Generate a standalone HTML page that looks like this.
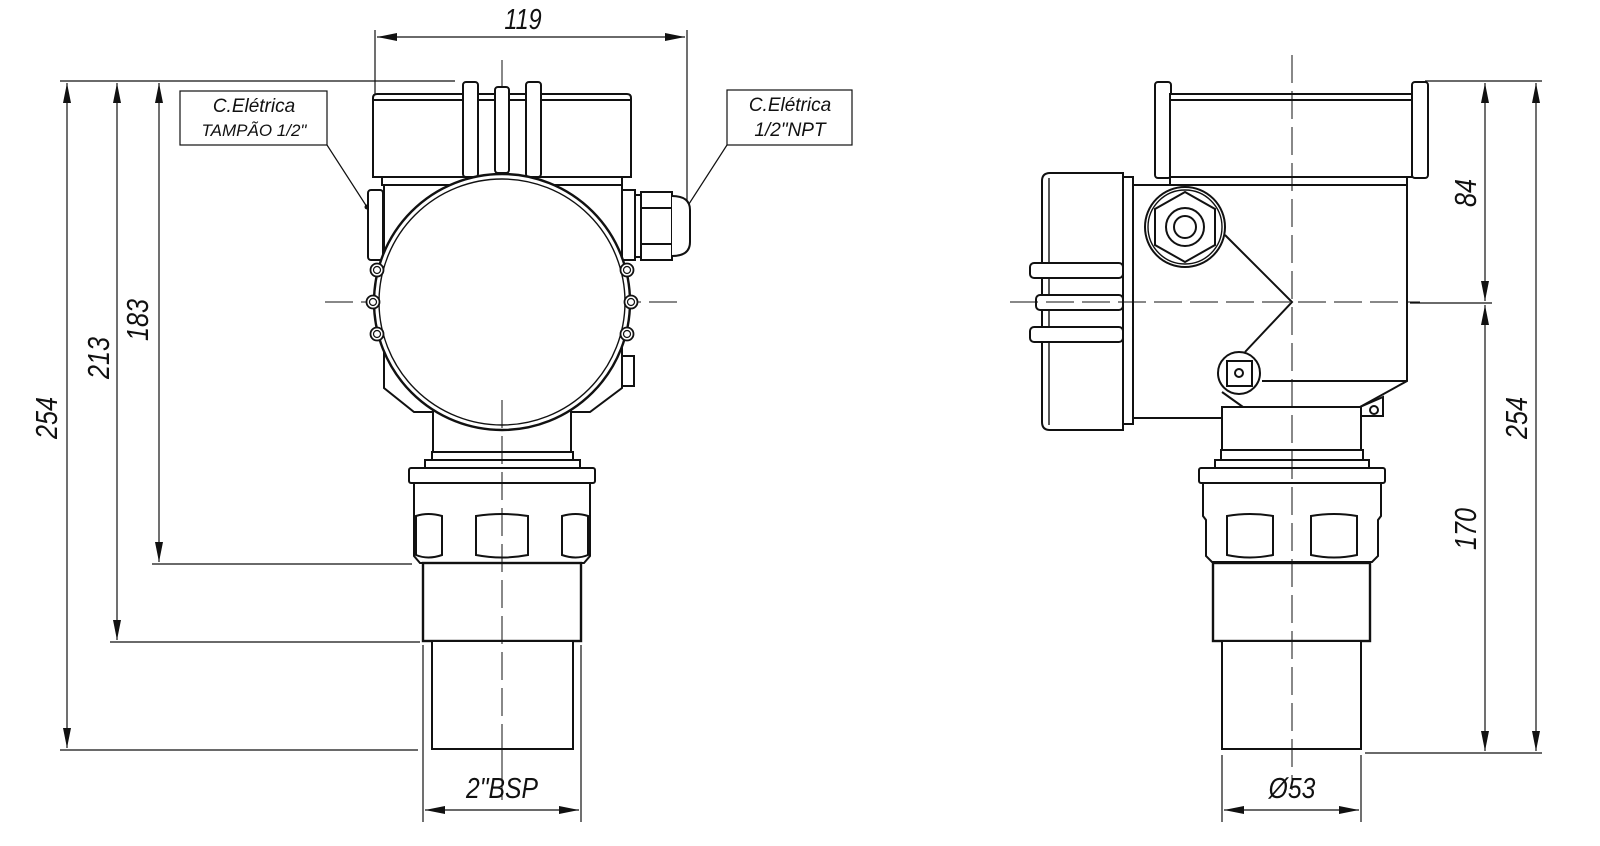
<!DOCTYPE html>
<html><head><meta charset="utf-8"><style>
html,body{margin:0;padding:0;background:#fff;}
svg{display:block;}
text{font-family:"Liberation Sans",sans-serif;font-style:italic;fill:#111;}
</style></head><body>
<svg width="1600" height="846" viewBox="0 0 1600 846" xmlns="http://www.w3.org/2000/svg">
<defs>
<marker id="a" viewBox="0 0 20 8" refX="20" refY="4" markerWidth="20" markerHeight="8" markerUnits="userSpaceOnUse" orient="auto-start-reverse"><path d="M0,0 L20,4 L0,8 Z" fill="#111"/></marker>
</defs>
<g stroke="#111" fill="none" stroke-width="1.2">
<line x1="60" y1="81" x2="455" y2="81"/>
<line x1="60" y1="750" x2="418" y2="750"/>
<line x1="110" y1="642" x2="420" y2="642"/>
<line x1="152" y1="564" x2="412" y2="564"/>
<line x1="67" y1="83" x2="67" y2="748" marker-start="url(#a)" marker-end="url(#a)"/>
<line x1="117" y1="83" x2="117" y2="640" marker-start="url(#a)" marker-end="url(#a)"/>
<line x1="159" y1="83" x2="159" y2="562" marker-start="url(#a)" marker-end="url(#a)"/>
<line x1="375" y1="30" x2="375" y2="95"/>
<line x1="687" y1="30" x2="687" y2="207"/>
<line x1="377" y1="37" x2="685" y2="37" marker-start="url(#a)" marker-end="url(#a)"/>
<line x1="423" y1="645" x2="423" y2="822"/>
<line x1="581" y1="645" x2="581" y2="822"/>
<line x1="425" y1="810" x2="579" y2="810" marker-start="url(#a)" marker-end="url(#a)"/>
<rect x="180" y="91" width="147" height="54"/>
<line x1="327" y1="145" x2="367" y2="207"/>
<rect x="727" y="90" width="125" height="55"/>
<line x1="727" y1="145" x2="687" y2="207"/>
<line x1="502" y1="60" x2="502" y2="800" stroke-width="1" stroke-dasharray="28,8"/>
<line x1="325" y1="302" x2="680" y2="302" stroke-width="1" stroke-dasharray="28,8"/>
</g>
<circle cx="367" cy="207" r="2.5" fill="#111"/>
<circle cx="687" cy="207" r="2.5" fill="#111"/>

<g stroke="#111" fill="#fff" stroke-width="2">
<path d="M373,177 L373,98 Q373,94 377,94 L627,94 Q631,94 631,98 L631,177 Z"/>
<line x1="373" y1="100" x2="631" y2="100"/>
<rect x="463" y="82" width="15" height="95" rx="3"/>
<rect x="495" y="87" width="14" height="86" rx="3"/>
<rect x="526" y="82" width="15" height="95" rx="3"/>
<rect x="382" y="177" width="240" height="8"/>
<path d="M384,185 L622,185 L622,388 L590,412 L414,412 L384,388 Z"/>
<rect x="433" y="400" width="138" height="52"/>
<rect x="622" y="356" width="12" height="30"/>
<rect x="368" y="190" width="15" height="70" rx="3"/>
<rect x="622" y="190" width="13" height="70"/>
<rect x="635" y="195" width="6" height="62"/>
<rect x="641" y="192" width="31" height="68"/>
<line x1="641" y1="208" x2="672" y2="208"/><line x1="641" y1="244" x2="672" y2="244"/>
<path d="M672,196 Q690,196 690,210 L690,242 Q690,256 672,256"/>
<circle cx="502" cy="302" r="128" stroke-width="2.4"/>
<circle cx="502" cy="302" r="123" stroke-width="1.4"/>
<g stroke-width="1.8">
<circle cx="377" cy="270" r="6.5"/><circle cx="373" cy="302" r="6.5"/><circle cx="377" cy="334" r="6.5"/>
<circle cx="627" cy="270" r="6.5"/><circle cx="631" cy="302" r="6.5"/><circle cx="627" cy="334" r="6.5"/>
</g>
<g stroke-width="1.2">
<circle cx="377" cy="270" r="3.5"/><circle cx="373" cy="302" r="3.5"/><circle cx="377" cy="334" r="3.5"/>
<circle cx="627" cy="270" r="3.5"/><circle cx="631" cy="302" r="3.5"/><circle cx="627" cy="334" r="3.5"/>
</g>
<rect x="432" y="452" width="141" height="8"/>
<rect x="425" y="460" width="155" height="8"/>
<rect x="409" y="468" width="186" height="15" rx="2"/>
<path d="M414,483 L590,483 L590,556 L584,563 L420,563 L414,556 Z"/>
<path d="M416,516 Q428,512 442,516 L442,555 Q428,560 416,555 Z"/>
<path d="M476,516 Q502,512 528,516 L528,555 Q502,560 476,555 Z"/>
<path d="M562,516 Q576,512 588,516 L588,555 Q576,560 562,555 Z"/>
<rect x="423" y="563" width="158" height="78" stroke-width="2.4"/>
<rect x="432" y="641" width="141" height="108"/>
</g>
<line x1="502" y1="400" x2="502" y2="800" stroke="#111" stroke-width="1" stroke-dasharray="28,8"/>

<g stroke="#111" fill="none" stroke-width="1.2">
<line x1="1425" y1="81" x2="1542" y2="81"/>
<line x1="1410" y1="303" x2="1492" y2="303"/>
<line x1="1365" y1="753" x2="1542" y2="753"/>
<line x1="1485" y1="83" x2="1485" y2="301" marker-start="url(#a)" marker-end="url(#a)"/>
<line x1="1485" y1="305" x2="1485" y2="751" marker-start="url(#a)" marker-end="url(#a)"/>
<line x1="1536" y1="83" x2="1536" y2="751" marker-start="url(#a)" marker-end="url(#a)"/>
<line x1="1222" y1="755" x2="1222" y2="822"/>
<line x1="1361" y1="755" x2="1361" y2="822"/>
<line x1="1224" y1="810" x2="1359" y2="810" marker-start="url(#a)" marker-end="url(#a)"/>
</g>
<g stroke="#111" fill="#fff" stroke-width="2">
<rect x="1155" y="82" width="16" height="96" rx="3"/>
<rect x="1412" y="82" width="16" height="96" rx="3"/>
<rect x="1170" y="94" width="242" height="83"/>
<line x1="1170" y1="100" x2="1412" y2="100"/>
<rect x="1170" y="177" width="237" height="8"/>
<path d="M1133,185 L1407,185 L1407,381 L1360,407 L1243,407 L1222,418 L1133,418 Z"/>
<line x1="1262" y1="381" x2="1407" y2="381"/>
<path d="M1360,407 L1383,397 L1383,416 L1362,416"/>
<circle cx="1374" cy="410" r="4"/>
<rect x="1123" y="177" width="10" height="247"/>
<path d="M1123,173 L1050,173 Q1042,173 1042,181 L1042,422 Q1042,430 1050,430 L1123,430 Z"/>
<line x1="1049" y1="178" x2="1049" y2="425" stroke-width="1.4"/>
<rect x="1030" y="263" width="93" height="15" rx="4"/>
<rect x="1036" y="295" width="87" height="15" rx="4"/>
<rect x="1030" y="327" width="93" height="15" rx="4"/>
<path d="M1225,235 L1292,302 L1245,352" fill="none"/>
<path d="M1222,392 L1243,407" fill="none"/>
<circle cx="1185" cy="227" r="40"/>
<circle cx="1185" cy="227" r="37" stroke-width="1.4"/>
<polygon points="1185,192 1215,209 1215,245 1185,262 1155,245 1155,209"/>
<circle cx="1185" cy="227" r="19"/>
<circle cx="1185" cy="227" r="11"/>
<circle cx="1239" cy="373" r="21"/>
<rect x="1227" y="361" width="25" height="25"/>
<circle cx="1239" cy="373" r="4"/>
<rect x="1222" y="407" width="139" height="43"/>
<rect x="1221" y="450" width="142" height="10"/>
<rect x="1215" y="460" width="154" height="8"/>
<rect x="1199" y="468" width="186" height="15" rx="2"/>
<path d="M1203,483 L1381,483 L1381,516 L1378,520 L1378,556 L1372,562 L1212,562 L1206,556 L1206,520 L1203,516 Z"/>
<path d="M1227,516 Q1250,512 1273,516 L1273,555 Q1250,560 1227,555 Z"/>
<path d="M1311,516 Q1334,512 1357,516 L1357,555 Q1334,560 1311,555 Z"/>
<rect x="1213" y="563" width="157" height="78" stroke-width="2.4"/>
<rect x="1222" y="641" width="139" height="108"/>
</g>
<line x1="1292" y1="55" x2="1292" y2="790" stroke="#111" stroke-width="1" stroke-dasharray="28,8"/>
<line x1="1010" y1="302" x2="1420" y2="302" stroke="#111" stroke-width="1" stroke-dasharray="28,8"/>

<text transform="translate(523,29) scale(0.9,1.1)" font-size="26" text-anchor="middle">119</text>
<text x="254" y="112" font-size="19" text-anchor="middle">C.Elétrica</text>
<text x="254" y="136" font-size="17" text-anchor="middle">TAMPÃO 1/2"</text>
<text x="790" y="111" font-size="19" text-anchor="middle">C.Elétrica</text>
<text x="790" y="136" font-size="19" text-anchor="middle">1/2"NPT</text>
<text transform="translate(502,798) scale(0.95,1.1)" font-size="26" text-anchor="middle">2"BSP</text>
<text transform="translate(1292,798) scale(0.95,1.1)" font-size="26" text-anchor="middle">Ø53</text>
<text transform="translate(57,418) rotate(-90) scale(0.9,1.1)" font-size="28" text-anchor="middle">254</text>
<text transform="translate(109,358) rotate(-90) scale(0.9,1.1)" font-size="28" text-anchor="middle">213</text>
<text transform="translate(148,320) rotate(-90) scale(0.9,1.1)" font-size="28" text-anchor="middle">183</text>
<text transform="translate(1476,193) rotate(-90) scale(0.9,1.1)" font-size="28" text-anchor="middle">84</text>
<text transform="translate(1476,529) rotate(-90) scale(0.9,1.1)" font-size="28" text-anchor="middle">170</text>
<text transform="translate(1527,418) rotate(-90) scale(0.9,1.1)" font-size="28" text-anchor="middle">254</text>
</svg>
</body></html>
